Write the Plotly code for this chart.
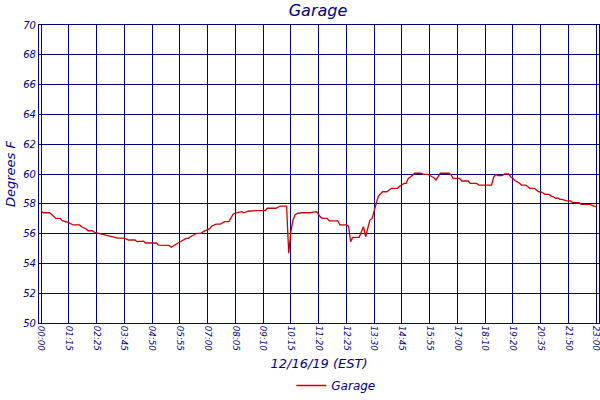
import plotly.graph_objects as go

# tick labels on the x axis, one per gridline (every 13 readings)
tick_labels = ['00:00', '01:15', '02:25', '03:45', '04:50', '05:55', '07:00',
               '08:05', '09:10', '10:15', '11:20', '12:25', '13:30', '14:45',
               '15:55', '17:00', '18:10', '19:20', '20:35', '21:50', '23:00']
READINGS_PER_TICK = 13

# reading number and temperature (deg F)
reading = [0, 1, 4, 6, 7, 9, 10, 13, 15, 18, 19, 21, 22, 24, 25, 27, 30, 33, 36,
           39, 41, 44, 45, 48, 49, 54, 55, 60, 61, 64, 66, 68, 69, 70, 73, 75,
           76, 78, 79, 80, 82, 84, 86, 88, 89, 90, 92, 94, 95, 97, 101, 105,
           106, 110, 112, 115, 116, 117, 118, 119, 120, 122, 126, 128, 129,
           131, 132, 134, 135, 139, 140, 143, 144, 145, 146, 149, 150, 151,
           152, 153, 154, 155, 156, 157, 158, 160, 162, 164, 167, 168, 169,
           170, 171, 172, 173, 174, 175, 178, 179, 181, 182, 184, 185, 186,
           187, 191, 192, 193, 196, 197, 200, 201, 204, 205, 211, 212, 213,
           214, 216, 217, 219, 220, 221, 222, 224, 225, 227, 228, 229, 231,
           232, 233, 234, 235, 236, 238, 239, 240, 241, 242, 243, 244, 245,
           246, 248, 249, 250, 252, 253, 257, 259, 260]
garage = [57.54, 57.40, 57.40, 57.13, 57.02, 57.02, 56.87, 56.73, 56.58, 56.58,
          56.46, 56.33, 56.19, 56.19, 56.09, 56.02, 55.90, 55.79, 55.70, 55.70,
          55.57, 55.57, 55.46, 55.50, 55.37, 55.37, 55.23, 55.21, 55.08, 55.35,
          55.52, 55.68, 55.68, 55.79, 56.02, 56.02, 56.13, 56.25, 56.33, 56.51,
          56.64, 56.64, 56.80, 56.80, 57.02, 57.32, 57.40, 57.47, 57.40, 57.50,
          57.54, 57.54, 57.70, 57.70, 57.85, 57.85, 54.68, 56.13, 56.90, 57.25,
          57.36, 57.40, 57.40, 57.47, 57.47, 57.09, 57.02, 57.02, 56.85, 56.85,
          56.58, 56.58, 56.50, 55.46, 55.75, 55.75, 56.13, 56.46, 55.79, 56.46,
          56.91, 57.00, 57.58, 58.03, 58.52, 58.81, 58.81, 59.04, 59.04, 59.19,
          59.26, 59.37, 59.37, 59.70, 59.80, 59.96, 60.05, 60.05, 59.98, 59.98,
          59.89, 59.75, 59.60, 59.80, 60.05, 60.05, 59.96, 59.71, 59.71, 59.53,
          59.53, 59.37, 59.37, 59.26, 59.26, 59.80, 59.96, 59.89, 59.89, 60.00,
          60.00, 59.80, 59.71, 59.55, 59.40, 59.26, 59.26, 59.15, 59.04, 59.04,
          58.90, 58.81, 58.81, 58.70, 58.63, 58.63, 58.50, 58.47, 58.36, 58.40,
          58.30, 58.30, 58.22, 58.19, 58.19, 58.10, 58.07, 58.07, 57.96, 57.96,
          57.85, 57.81]

NAVY = '#000080'
FONT = 'DejaVu Sans'

fig = go.Figure()
fig.add_trace(go.Scatter(
    x=reading,
    y=garage,
    mode='lines',
    line={'color': '#cc0000', 'width': 1.3},
    name='Garage',
))

tick_vals = [i * READINGS_PER_TICK for i in range(len(tick_labels))]

fig.update_layout(
    width=600,
    height=400,
    margin={'l': 39, 'r': 1, 't': 25, 'b': 77},
    paper_bgcolor='white',
    plot_bgcolor='white',
    title={
        'text': 'Garage',
        'x': 0.53,
        'xanchor': 'center',
        'y': 0.975,
        'yanchor': 'middle',
        'font': {'family': FONT, 'size': 16, 'color': NAVY, 'style': 'italic'},
    },
    showlegend=True,
    legend={
        'orientation': 'h',
        'x': 0.53,
        'xanchor': 'center',
        'yref': 'container',
        'y': -0.025,
        'yanchor': 'bottom',
        'font': {'family': FONT, 'size': 12, 'color': NAVY, 'style': 'italic'},
    },
)
fig.update_xaxes(
    automargin=False,
    range=[-0.94, 261.3],
    tickvals=tick_vals,
    ticktext=tick_labels,
    tickangle=90,
    ticks='',
    ticklabeloverflow='allow',
    showgrid=True,
    gridcolor=NAVY,
    gridwidth=1.2,
    zeroline=False,
    showline=True,
    linecolor=NAVY,
    linewidth=1.2,
    mirror=True,
    tickfont={'family': FONT, 'size': 8.7, 'color': NAVY, 'style': 'italic'},
    title={'text': '12/16/19 (EST)', 'standoff': 9,
           'font': {'family': FONT, 'size': 13, 'color': NAVY, 'style': 'italic'}},
)
fig.update_yaxes(
    automargin=False,
    range=[50, 70],
    dtick=2,
    ticks='',
    showgrid=True,
    gridcolor=NAVY,
    gridwidth=1.2,
    zeroline=False,
    showline=True,
    linecolor=NAVY,
    linewidth=1.2,
    mirror=True,
    tickfont={'family': FONT, 'size': 10, 'color': NAVY, 'style': 'italic'},
    title={'text': 'Degrees F', 'standoff': 4,
           'font': {'family': FONT, 'size': 13, 'color': NAVY, 'style': 'italic'}},
)

# drop the browser's default page margin so the figure sits at the top-left corner
fig.write_html('out.html', config={'displayModeBar': False},
               post_script="document.body.style.margin='0';")
